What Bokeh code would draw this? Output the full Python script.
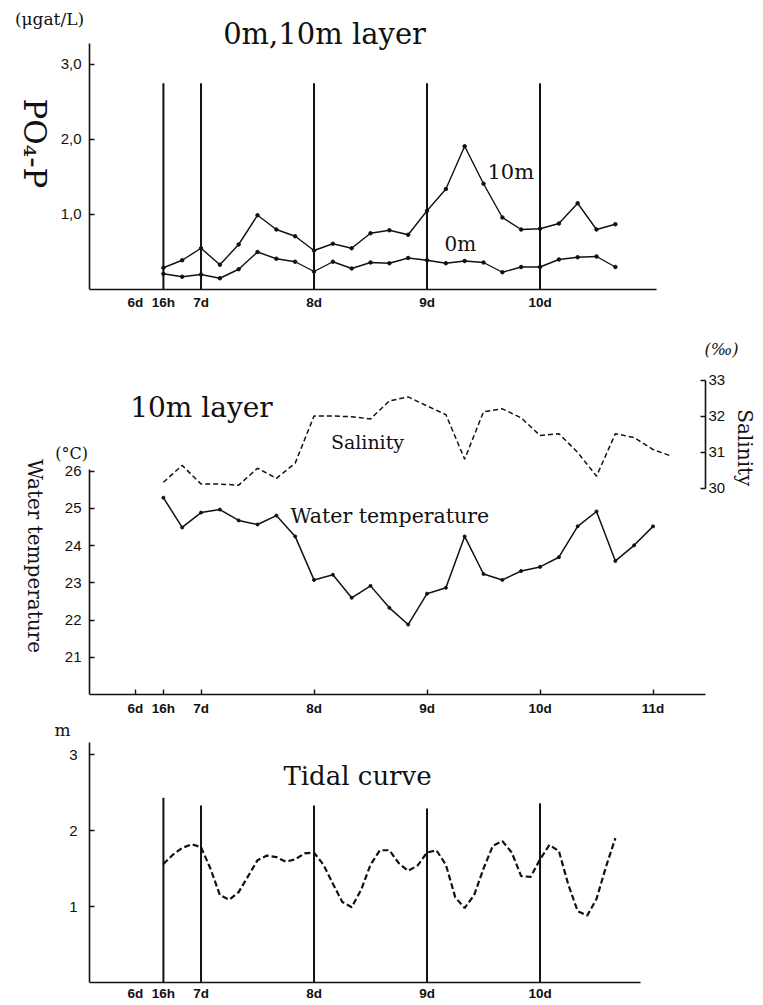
import math
from bokeh.plotting import figure
from bokeh.models import Label, LinearAxis, Range1d, FixedTicker
from bokeh.layouts import column
from bokeh.embed import file_html
from bokeh.resources import INLINE

# ---------------- data ----------------
# PO4-P (µgat/L), sampled every 4 h from 6d 16h
po4_days = [6.667, 6.833, 7.0, 7.167, 7.333, 7.5, 7.667, 7.833, 8.0, 8.167, 8.333, 8.5,
            8.667, 8.833, 9.0, 9.167, 9.333, 9.5, 9.667, 9.833, 10.0, 10.167, 10.333, 10.5, 10.667]
po4_10m = [0.29, 0.39, 0.55, 0.33, 0.60, 0.99, 0.80, 0.71, 0.52, 0.61, 0.55, 0.75, 0.79,
           0.73, 1.05, 1.34, 1.91, 1.41, 0.96, 0.80, 0.81, 0.88, 1.15, 0.80, 0.87]
po4_0m = [0.21, 0.17, 0.20, 0.15, 0.27, 0.50, 0.41, 0.37, 0.24, 0.37, 0.28, 0.36, 0.35,
          0.42, 0.39, 0.35, 0.38, 0.36, 0.23, 0.30, 0.30, 0.40, 0.43, 0.44, 0.30]

# 10 m layer: water temperature (°C) and salinity (‰)
temp_days = [6.667, 6.833, 7.0, 7.167, 7.333, 7.5, 7.667, 7.833, 8.0, 8.167, 8.333, 8.5,
             8.667, 8.833, 9.0, 9.167, 9.333, 9.5, 9.667, 9.833, 10.0, 10.167, 10.333, 10.5,
             10.667, 10.833, 11.0]
temp_10m = [25.29, 24.49, 24.89, 24.97, 24.68, 24.57, 24.81, 24.25, 23.08, 23.22, 22.60, 22.92,
            22.33, 21.88, 22.71, 22.87, 24.25, 23.24, 23.08, 23.32, 23.43, 23.69, 24.52, 24.92,
            23.59, 24.01, 24.52]
sal_days = [6.667, 6.833, 7.0, 7.167, 7.333, 7.5, 7.667, 7.833, 8.0, 8.167, 8.333, 8.5,
            8.667, 8.833, 9.0, 9.167, 9.333, 9.5, 9.667, 9.833, 10.0, 10.167, 10.333, 10.5,
            10.667, 10.833, 11.0, 11.167]
sal_10m = [30.16, 30.63, 30.11, 30.11, 30.08, 30.55, 30.27, 30.69, 32.00, 32.00, 31.98, 31.92,
           32.42, 32.53, 32.28, 32.04, 30.80, 32.12, 32.20, 31.95, 31.46, 31.51, 30.99, 30.33,
           31.51, 31.40, 31.07, 30.88]

# Tidal curve (m), every 2 h
tide_days = [6.667, 6.75, 6.833, 6.917, 7.0, 7.083, 7.167, 7.25, 7.333, 7.417, 7.5, 7.583,
             7.667, 7.75, 7.833, 7.917, 8.0, 8.083, 8.167, 8.25, 8.333, 8.417, 8.5, 8.583,
             8.667, 8.75, 8.833, 8.917, 9.0, 9.083, 9.167, 9.25, 9.333, 9.417, 9.5, 9.583,
             9.667, 9.75, 9.833, 9.917, 10.0, 10.083, 10.167, 10.25, 10.333, 10.417, 10.5,
             10.583, 10.667]
tide_m = [1.56, 1.68, 1.77, 1.82, 1.78, 1.50, 1.15, 1.09, 1.19, 1.40, 1.61, 1.67,
          1.65, 1.59, 1.62, 1.70, 1.71, 1.55, 1.30, 1.06, 0.99, 1.22, 1.55, 1.74,
          1.74, 1.57, 1.47, 1.54, 1.71, 1.74, 1.55, 1.12, 0.98, 1.15, 1.50, 1.80,
          1.86, 1.71, 1.40, 1.39, 1.62, 1.81, 1.73, 1.29, 0.94, 0.88, 1.10, 1.52, 1.90]

# reference (sampling) vertical lines
mark_days = [6.667, 7.0, 8.0, 9.0, 10.0]
mark_top_po4 = [2.75, 2.75, 2.75, 2.75, 2.75]
mark_top_tide = [2.43, 2.33, 2.33, 2.29, 2.36]

# tick labels
x_ticks = [6.42, 6.667, 7, 8, 9, 10, 11]
x_labels = ["6d", "16h", "7d", "8d", "9d", "10d", "11d"]
po4_ticks = [1, 2, 3]
po4_labels = ["1,0", "2,0", "3,0"]
temp_ticks = [21, 22, 23, 24, 25, 26]
sal_ticks = [30, 31, 32, 33]
tide_ticks = [1, 2, 3]

# ---------------- layout constants ----------------
X_LEFT, X_RIGHT = 5.2254, 11.9777      # full page width in days
AXIS_X = 6.013                         # x of the left axes
TOP_X_END, MID_X_END, BOT_X_END = 11.03, 11.464, 10.889
SERIF = "DejaVu Serif"
SANS = "Liberation Sans"
BLACK = "#111111"


def make_fig(height, y0, y1, bb):
    p = figure(width=763, height=height, x_range=Range1d(X_LEFT, X_RIGHT),
               y_range=Range1d(y0, y1), output_backend="svg", toolbar_location=None,
               min_border_left=0, min_border_right=0, min_border_top=0,
               min_border_bottom=bb)
    p.grid.visible = False
    p.outline_line_color = None
    p.background_fill_color = "white"
    p.border_fill_color = "white"
    return p


def style_axis(ax, labels_font_size="13px", bold=False, standoff=6):
    ax.axis_line_color = BLACK
    ax.axis_line_width = 1.6
    ax.major_tick_line_color = BLACK
    ax.major_tick_line_width = 1.4
    ax.major_tick_in = 5
    ax.major_tick_out = 0
    ax.minor_tick_line_color = None
    ax.major_label_text_font = SANS
    ax.major_label_text_font_size = labels_font_size
    ax.major_label_text_color = BLACK
    ax.major_label_standoff = standoff
    if bold:
        ax.major_label_text_font_style = "bold"


def xaxis_setup(p, ticks, labels, show_ticks, standoff, x_end):
    ax = p.xaxis[0]
    ax.ticker = FixedTicker(ticks=ticks)
    ax.major_label_overrides = {t: l for t, l in zip(ticks, labels)}
    ax.bounds = (AXIS_X, x_end)
    style_axis(ax, "13.5px", bold=True, standoff=standoff)
    if not show_ticks:
        ax.major_tick_line_color = None


def yaxis_setup(p, ticks, bounds, size, standoff, overrides=None):
    ax = p.yaxis[0]
    ax.ticker = FixedTicker(ticks=ticks)
    ax.fixed_location = AXIS_X
    ax.bounds = bounds
    if overrides:
        ax.major_label_overrides = overrides
    style_axis(ax, size, standoff=standoff)


def add_label(p, x, y, text, size, font=SERIF, angle=0, align="center", style="normal",
              y_range_name="default"):
    p.add_layout(Label(x=x, y=y, text=text, text_font=font, text_font_size=size,
                       text_color=BLACK, angle=angle, text_align=align,
                       text_baseline="middle", text_font_style=style,
                       y_range_name=y_range_name))


# ---------------- top: PO4-P ----------------
top = make_fig(318, 0, 3.853, 29)
xaxis_setup(top, x_ticks[:6], x_labels[:6], False, 5, TOP_X_END)
yaxis_setup(top, po4_ticks, (0, 3.28), "15px", 8,
            {t: l for t, l in zip(po4_ticks, po4_labels)})

top.segment(x0=mark_days, x1=mark_days, y0=[0] * len(mark_days), y1=mark_top_po4,
            line_color=BLACK, line_width=2)
top.line(po4_days, po4_10m, line_color=BLACK, line_width=1.4)
top.scatter(po4_days, po4_10m, size=3.5, color=BLACK)
top.line(po4_days, po4_0m, line_color=BLACK, line_width=1.4)
top.scatter(po4_days, po4_0m, size=3.5, color=BLACK)

add_label(top, 5.659, 3.613, "(μgat/L)", "17px")
add_label(top, 5.535, 1.947, "PO₄-P", "31px", angle=-math.pi / 2)
add_label(top, 8.093, 3.40, "0m,10m layer", "29px")
add_label(top, 9.535, 1.56, "10m", "21px", align="left")
add_label(top, 9.155, 0.613, "0m", "20px", align="left")

# ---------------- middle: temperature & salinity ----------------
mid = make_fig(400, 20.0, 30.107, 21)
mid.extra_y_ranges = {"sal": Range1d(24.267, 34.708)}
xaxis_setup(mid, x_ticks, x_labels, True, 6, MID_X_END)
yaxis_setup(mid, temp_ticks, (20, 26.05), "15px", 8)
sal_axis = LinearAxis(y_range_name="sal", ticker=FixedTicker(ticks=sal_ticks),
                      bounds=(30, 33), fixed_location=MID_X_END)
style_axis(sal_axis, "15px", standoff=3)
mid.add_layout(sal_axis, "right")

mid.line(sal_days, sal_10m, y_range_name="sal", line_color=BLACK, line_width=1.5,
         line_dash="5 3")
mid.line(temp_days, temp_10m, line_color=BLACK, line_width=1.5)
mid.scatter(temp_days, temp_10m, size=3, color=BLACK)

add_label(mid, 11.606, 29.27, "(‰)", "16px", style="italic")
add_label(mid, 7.004, 27.72, "10m layer", "28px")
add_label(mid, 8.473, 26.79, "Salinity", "19px")
add_label(mid, 7.792, 24.81, "Water temperature", "20.5px", align="left")
add_label(mid, 5.854, 26.47, "(°C)", "16px")
add_label(mid, 5.535, 23.72, "Water temperature", "20px", angle=-math.pi / 2)
add_label(mid, 11.818, 26.63, "Salinity", "20px", angle=-math.pi / 2)

# ---------------- bottom: tidal curve ----------------
bot = make_fig(287, 0, 3.474, 23)
xaxis_setup(bot, x_ticks[:6], x_labels[:6], False, 3, BOT_X_END)
yaxis_setup(bot, tide_ticks, (0, 3.16), "15px", 12)

bot.segment(x0=mark_days, x1=mark_days, y0=[0] * len(mark_days), y1=mark_top_tide,
            line_color=BLACK, line_width=2)
bot.line(tide_days, tide_m, line_color=BLACK, line_width=2.2, line_dash="6 3")

add_label(bot, 5.774, 3.32, "m", "17px")
add_label(bot, 8.385, 2.72, "Tidal curve", "26px")

layout = column(top, mid, bot, spacing=0)
open("out.html", "w").write(file_html(layout, INLINE))
